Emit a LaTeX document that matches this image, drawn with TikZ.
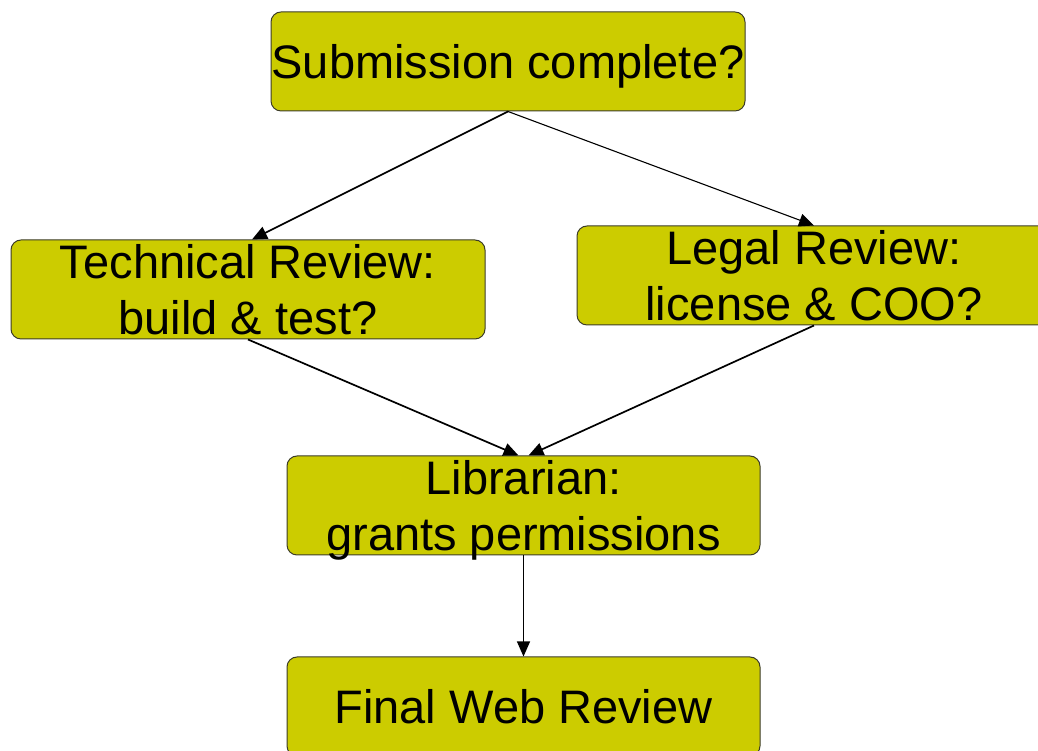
\documentclass[tikz,border=0pt]{standalone}
\usepackage{fontspec}
\setmainfont{Liberation Sans}
\usepackage{tikz}
\usetikzlibrary{
  arrows.meta,
  positioning
}
\definecolor{stepolive}{RGB}{204, 204, 0}
\definecolor{stepedge}{RGB}{60, 60, 40}
\tikzset{
  stagebox/.style = {
    rectangle, rounded corners=10pt,
    draw=stepedge, line width=1pt,
    fill=stepolive, minimum width=#1, minimum height=99pt,
    inner sep=0pt
  },
  stagebox/.default = 474pt,
  stagetxt/.style = {
    anchor=base, inner sep=0pt,
    font=\fontsize{47}{56}\selectfont
  },
  arr/.style = {-{Triangle[length=15pt, width=13pt]}, draw=black,
    line width=1.7pt},
  arrthin/.style = {-{Triangle[length=15pt, width=13pt]}, draw=black,
    line width=1.1pt},
}

\begin{document}
\begin{tikzpicture}[x=1pt, y=1pt]
  \useasboundingbox (0,0) rectangle (1038,751);
  \clip (0,0) rectangle (1038,751);

  %% ── Boxes ──────────────────────────────────────────────────────────────
  \node[stagebox] (submit) at (508,689.5) {};
  \node[stagebox] (techrev) at (248,461.5) {};
  \node[stagebox] (legalrev) at (814,475.5) {};
  \node[stagebox=473pt] (librarian) at (523.5,245.5) {};
  \node[stagebox=473pt, below=101pt of librarian] (webrev) {};

  %% ── Texts ──────────────────────────────────────────────────────────────
  \node[stagetxt] (submit_t) at ([yshift=-16.8pt]submit.center)
    {Submission complete?};
  \node[stagetxt] (techrev_a) at ([yshift=11pt]techrev.center)
    {Technical Review:};
  \node[stagetxt] (techrev_b) at ([yshift=-45pt]techrev.center)
    {build \& test?};
  \node[stagetxt] (legalrev_a) at ([yshift=11pt]legalrev.center)
    {Legal Review:};
  \node[stagetxt] (legalrev_b) at ([yshift=-45pt]legalrev.center)
    {license \& COO?};
  \node[stagetxt] (librarian_a) at ([yshift=11pt]librarian.center)
    {Librarian:};
  \node[stagetxt] (librarian_b) at ([yshift=-45pt]librarian.center)
    {grants permissions};
  \node[stagetxt] (webrev_t) at ([yshift=-16.8pt]webrev.center)
    {Final Web Review};

  %% ── Arrows ─────────────────────────────────────────────────────────────
  \draw[arr]     (submit.south) -- ([xshift=4pt]techrev.north);
  \draw[arrthin] (submit.south) -- (legalrev.north);
  \draw[arr]     (techrev.south) -- ([xshift=-5pt]librarian.north);
  \draw[arr]     (legalrev.south) -- ([xshift=5pt]librarian.north);
  \draw[arrthin] (librarian.south) -- (webrev.north);

\end{tikzpicture}
\end{document}
